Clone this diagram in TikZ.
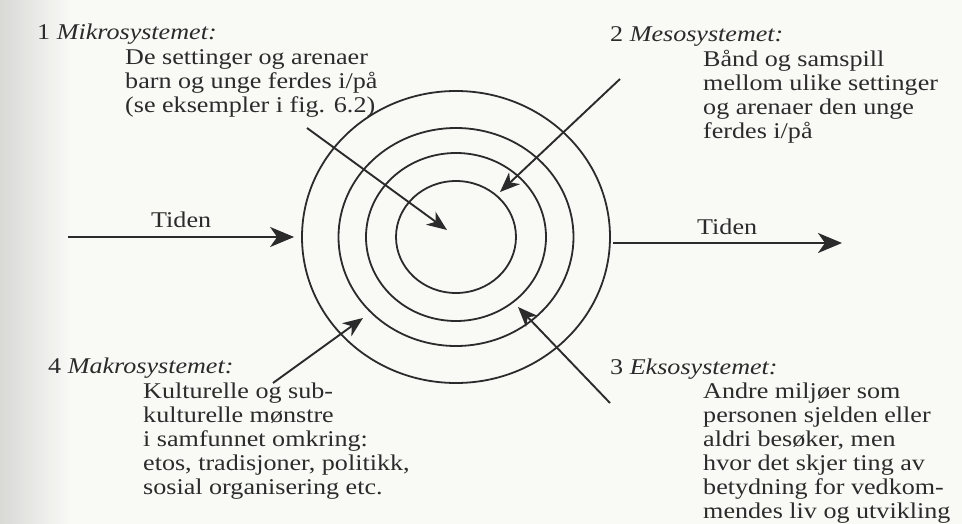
\documentclass[tikz,border=0pt]{standalone}
\usepackage{fontspec}
\setmainfont{Liberation Serif}[FakeStretch=1.16]
\usetikzlibrary{shapes.geometric,arrows.meta,positioning}

\newlength{\du}
\setlength{\du}{1pt}
\definecolor{inkcolor}{rgb}{0.170000, 0.170000, 0.170000}
\definecolor{papercolor}{rgb}{0.975000, 0.975000, 0.965000}
\definecolor{edgecolor}{rgb}{0.850000, 0.850000, 0.840000}
\tikzset{
  ring/.style={ellipse, draw=inkcolor, line width=1.8\du, inner sep=0pt},
  captxt/.style={inner sep=0pt, align=left, text=inkcolor, font=\fontsize{22.5}{24}\selectfont},
  pointer/.style={draw=inkcolor, line width=1.9\du, -{Stealth[length=20pt, width=16pt, inset=6pt]}},
  timeline/.style={draw=inkcolor, line width=2.4\du, -{Stealth[length=24pt, width=20pt, inset=7pt]}},
}

\begin{document}
\begin{tikzpicture}
\pgftransformxscale{1.000000}
\pgftransformyscale{-1.000000}
% paper
\fill[papercolor] (0\du,0\du) rectangle (962\du,524\du);
\shade[left color=edgecolor, right color=papercolor] (0\du,0\du) rectangle (70\du,524\du);
\useasboundingbox (0\du,0\du) rectangle (962\du,524\du);
% the four systems
\node[ring, minimum width=120\du, minimum height=112\du] (ring1) at (456\du,237\du) {};
\node[ring, minimum width=180\du, minimum height=168\du] (ring2) at (456\du,237\du) {};
\node[ring, minimum width=235\du, minimum height=218\du] (ring3) at (456\du,237\du) {};
\node[ring, minimum width=308\du, minimum height=292\du] (ring4) at (456\du,237\du) {};
% setfont left to latex
\node[captxt, anchor=base west] (mikroHead) at (37\du,40\du) {1 \textit{Mikrosystemet:}};
\node[captxt, anchor=north west] (mikroText) at (125\du,49\du) {De settinger og arenaer\\barn og unge ferdes i/på\\(se eksempler i fig. 6.2)};
\node[captxt, anchor=base west] (mesoHead) at (610\du,42\du) {2 \textit{Mesosystemet:}};
\node[captxt, anchor=north west] (mesoText) at (703\du,50\du) {Bånd og samspill\\mellom ulike settinger\\og arenaer den unge\\ferdes i/på};
\node[captxt, anchor=base west] (eksoHead) at (610\du,374\du) {3 \textit{Eksosystemet:}};
\node[captxt, anchor=north west] (eksoText) at (703\du,383\du) {Andre miljøer som\\personen sjelden eller\\aldri besøker, men\\hvor det skjer ting av\\betydning for vedkom-\\mendes liv og utvikling};
\node[captxt, anchor=base west] (makroHead) at (48\du,373\du) {4 \textit{Makrosystemet:}};
\node[captxt, anchor=north west] (makroText) at (143\du,383\du) {Kulturelle og sub-\\kulturelle mønstre\\i samfunnet omkring:\\etos, tradisjoner, politikk,\\sosial organisering etc.};
\node[captxt, anchor=base west] (tidenInLabel) at (151\du,227\du) {Tiden};
\node[captxt, anchor=base west] (tidenOutLabel) at (697\du,235\du) {Tiden};
% time axis
\coordinate (tidenIn) at (68\du,237\du);
\coordinate (tidenOutStart) at (613\du,243\du);
\coordinate (tidenOutEnd) at (842\du,243\du);
\draw[timeline, shorten >=7pt] (tidenIn) -- (ring4);
\draw[timeline] (tidenOutStart) -- (tidenOutEnd);
% pointers into the rings
\coordinate (mikroTail) at (307\du,128\du);
\coordinate (mikroTip) at (447\du,230\du);
\coordinate (mesoTail) at (620\du,79\du);
\coordinate (mesoTip) at (500\du,192\du);
\coordinate (eksoTail) at (610\du,403\du);
\coordinate (eksoTip) at (518\du,307\du);
\coordinate (makroTail) at (273\du,383\du);
\coordinate (makroTip) at (363\du,318\du);
\draw[pointer] (mikroTail) -- (mikroTip);
\draw[pointer] (mesoTail) -- (mesoTip);
\draw[pointer] (eksoTail) -- (eksoTip);
\draw[pointer] (makroTail) -- (makroTip);
\end{tikzpicture}
\end{document}
